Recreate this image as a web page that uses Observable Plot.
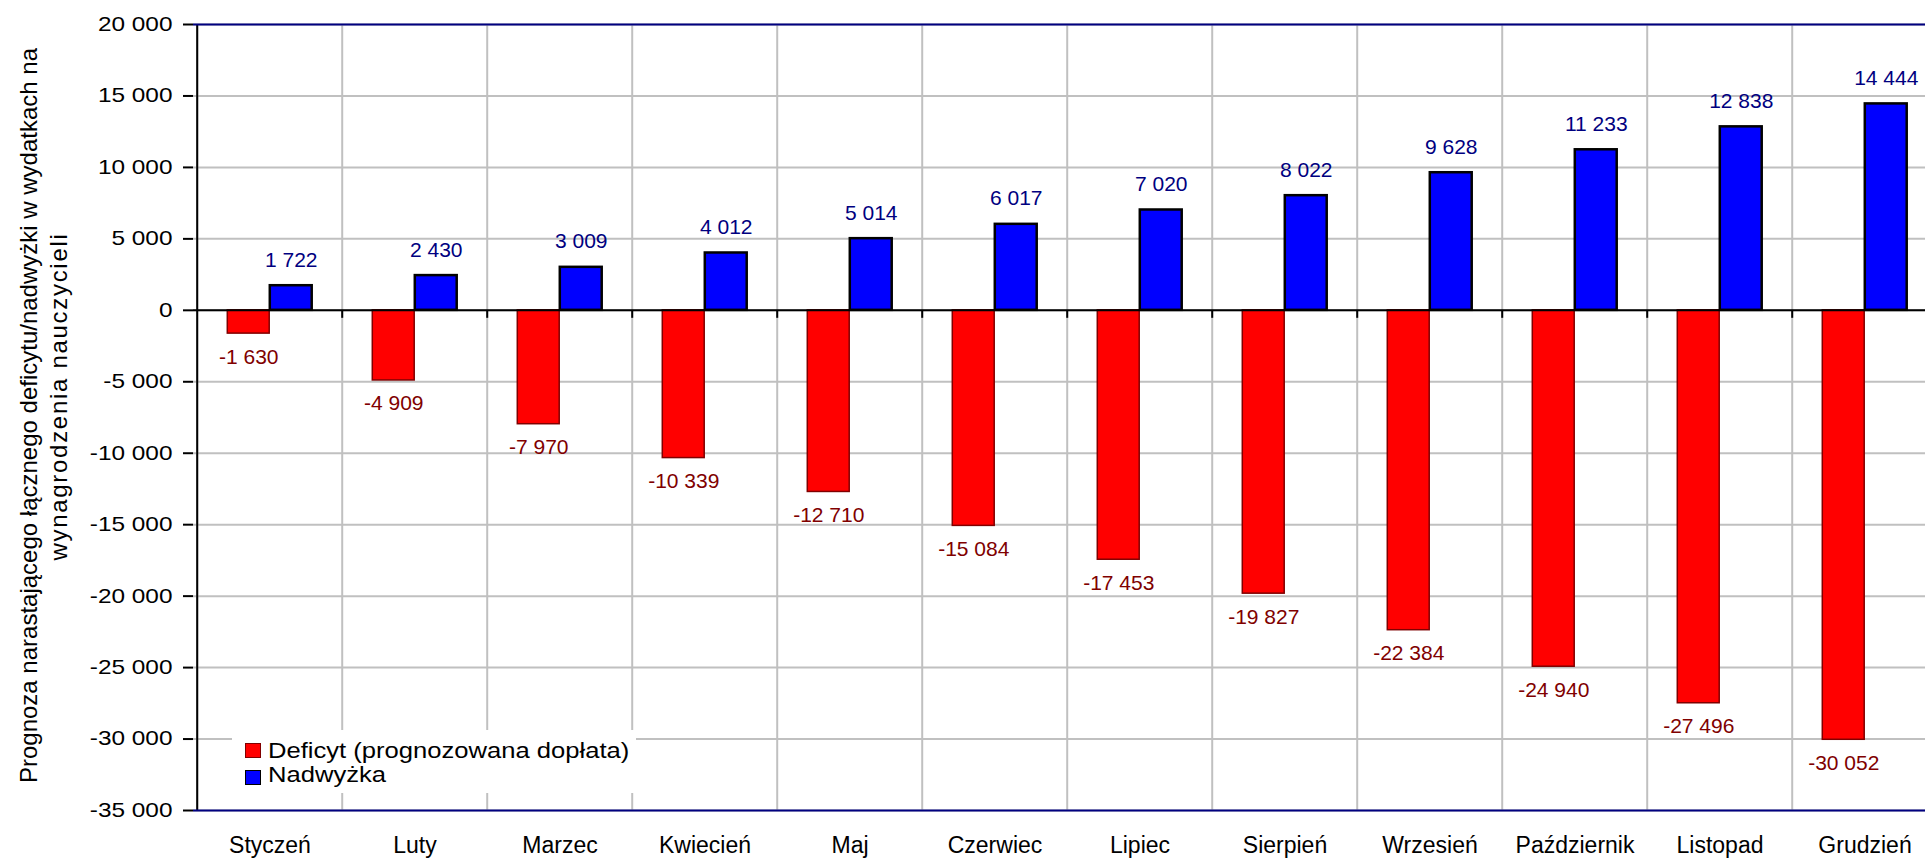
<!DOCTYPE html>
<html>
<head>
<meta charset="utf-8">
<script src="https://cdn.jsdelivr.net/npm/d3@7"></script>
<script src="https://cdn.jsdelivr.net/npm/@observablehq/plot@0.6"></script>
<style>
  html, body { margin: 0; padding: 0; background: #fff; overflow: hidden; }
  #wrap { position: relative; width: 1925px; height: 858px; overflow: hidden; }
  #legend { position: absolute; left: 232px; top: 730px; width: 404px; height: 63px; background: #fff;
            font-family: "Liberation Sans", Arial, sans-serif; font-size: 21.5px; color: #000; }
  #legend .sw { position: absolute; left: 13px; width: 14px; height: 13px; border: 1px solid #000; }
  #legend .lt { position: absolute; left: 36px; line-height: 21.5px; white-space: nowrap;
                transform: scaleX(1.19); transform-origin: left center; }
</style>
</head>
<body>
<div id="wrap"></div>
<script>
// ---- data ----
const months = ["Styczeń","Luty","Marzec","Kwiecień","Maj","Czerwiec","Lipiec","Sierpień","Wrzesień","Październik","Listopad","Grudzień"];
const deficit = [-1630,-4909,-7970,-10339,-12710,-15084,-17453,-19827,-22384,-24940,-27496,-30052];
const surplus = [1722,2430,3009,4012,5014,6017,7020,8022,9628,11233,12838,14444];
const seriesNames = ["Deficyt (prognozowana dopłata)","Nadwyżka"];
const seriesColors = ["#ff0000","#0000ff"];
const yTicks = [20000,15000,10000,5000,0,-5000,-10000,-15000,-20000,-25000,-30000,-35000];
const yTitle = ["Prognoza narastającego łącznego deficytu/nadwyżki w wydatkach na","wynagrodzenia nauczycieli"];

// ---- layout ----
const W = 1945, H = 858, ML = 193, MR = 5, MT = 24, MB = 48;
const bw = (W - ML - MR) / months.length;
const barW = 42.5;
const tickLen = 8 * (20000 - (-35000)) / (H - MT - MB);

const table = months.map((m, i) => ({month: m, deficit: deficit[i], surplus: surplus[i]}));
const fmt = n => (n < 0 ? "-" : "") + d3.format(",")(Math.abs(n)).replace(/,/g, " ");

const chart = Plot.plot({
  width: W, height: H,
  marginLeft: ML, marginRight: MR, marginTop: MT, marginBottom: MB,
  style: {fontFamily: "'Liberation Sans', Arial, sans-serif", background: "#fff", maxWidth: "none", color: "#000"},
  x: {domain: months, padding: 0, axis: null},
  y: {domain: [-35000, 20000], axis: null},
  marks: [
    Plot.ruleY(yTicks, {stroke: "#c0c0c0", strokeWidth: 2}),
    Plot.ruleX(months, {x: d => d, dx: -bw / 2, stroke: "#c0c0c0", strokeWidth: 2}),
    Plot.barY(table, {x: "month", y: "deficit", fill: seriesColors[0], stroke: "#800000", strokeWidth: 1.5,
                      insetLeft: bw / 2 - barW, insetRight: bw / 2}),
    Plot.barY(table, {x: "month", y: "surplus", fill: seriesColors[1], stroke: "#000", strokeWidth: 2.5,
                      insetLeft: bw / 2, insetRight: bw / 2 - barW}),
    Plot.ruleY([0], {stroke: "#000", strokeWidth: 2}),
    Plot.ruleX(months.slice(1), {x: d => d, dx: -bw / 2, y1: 0, y2: -tickLen, stroke: "#000", strokeWidth: 2}),
    Plot.ruleX([months[0]], {x: d => d, dx: -bw / 2, stroke: "#000", strokeWidth: 2}),
    Plot.ruleY([yTicks[0], yTicks[yTicks.length - 1]], {stroke: "#000080", strokeWidth: 2}),
    Plot.text(table, {x: "month", y: "surplus", text: d => fmt(d.surplus), dx: barW / 2, dy: -19,
                      lineAnchor: "bottom", fill: "#000080", fontSize: 21}),
    Plot.text(table, {x: "month", y: "deficit", text: d => fmt(d.deficit), dx: -barW / 2, dy: 30,
                      lineAnchor: "bottom", fill: "#800000", fontSize: 21}),
    Plot.axisY(yTicks, {tickSize: 10, tickPadding: 11, fontSize: 20, tickFormat: fmt, strokeWidth: 2, label: null}),
    Plot.axisX({tickSize: 0, tickPadding: 26, fontSize: 23, label: null}),
    Plot.text([yTitle[0]], {text: d => d, frameAnchor: "left", textAnchor: "middle", rotate: -90,
                            dx: -164, dy: -2, fontSize: 24}),
    Plot.text([yTitle[1]], {text: d => d, frameAnchor: "left", textAnchor: "middle", rotate: -90,
                            dx: -134, dy: -21, fontSize: 24})
  ]
});

// stretch y tick labels horizontally like the reference
const tickStrings = new Set(yTicks.map(fmt));
chart.querySelectorAll("text").forEach(t => {
  if (tickStrings.has(t.textContent)) {
    t.setAttribute("transform", (t.getAttribute("transform") || "") + " scale(1.22,1)");
  }
  if (t.textContent === yTitle[1]) t.setAttribute("letter-spacing", "1.7");
});

const wrap = document.getElementById("wrap");
wrap.appendChild(chart);

// legend (inside plot area, bottom-left)
const legend = document.createElement("div");
legend.id = "legend";
const swTops = [13, 40];
const txtTops = [11, 35];
seriesNames.forEach((name, i) => {
  const sw = document.createElement("div");
  sw.className = "sw";
  sw.style.top = swTops[i] + "px";
  sw.style.background = seriesColors[i];
  if (i === 0) sw.style.borderColor = "#800000";
  legend.appendChild(sw);
  const tx = document.createElement("div");
  tx.className = "lt";
  tx.style.top = txtTops[i] + "px";
  tx.textContent = name;
  legend.appendChild(tx);
});
wrap.appendChild(legend);
</script>
</body>
</html>
